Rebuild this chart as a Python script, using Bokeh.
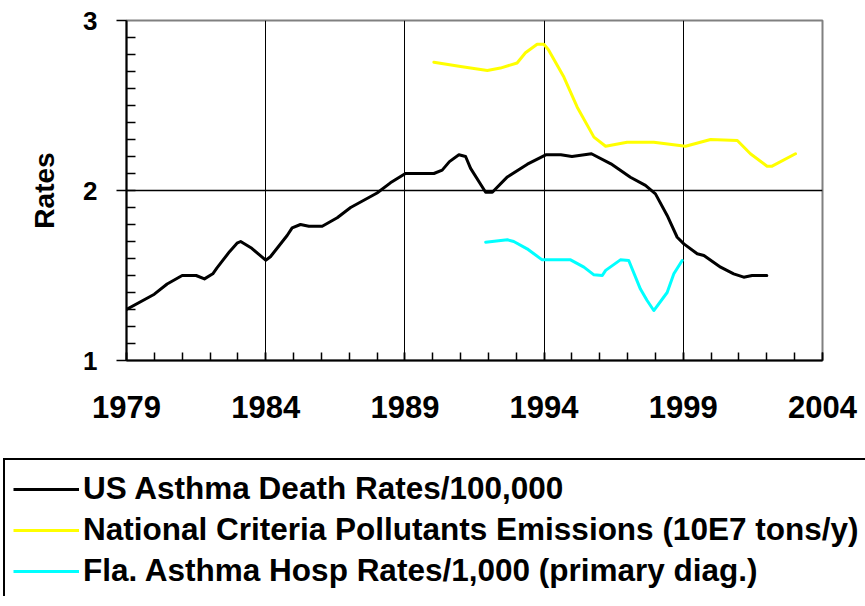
from bokeh.plotting import figure
from bokeh.models import Range1d, FixedTicker, Legend, LegendItem
from bokeh.embed import file_html
from bokeh.resources import INLINE

# ---- data ----
death_years = [1979.0, 1980.0, 1980.46, 1981.0, 1981.5, 1981.8, 1982.1, 1982.25, 1982.7, 1982.97,
               1983.1, 1983.5, 1984.0, 1984.17, 1984.77, 1984.95, 1985.25, 1985.55, 1986.03, 1986.57,
               1987.05, 1988.0, 1988.48, 1989.02, 1990.04, 1990.34, 1990.6, 1990.94, 1991.18, 1991.36,
               1991.9, 1992.14, 1992.68, 1993.4, 1994.06, 1994.6, 1995.0, 1995.7, 1996.4, 1997.1,
               1997.64, 1998.0, 1998.42, 1998.78, 1999.02, 1999.5, 1999.74, 2000.34, 2000.81, 2001.17,
               2001.47, 2002.0]
death_rates = [1.30, 1.39, 1.45, 1.50, 1.50, 1.48, 1.51, 1.545, 1.64, 1.69,
               1.70, 1.66, 1.59, 1.61, 1.735, 1.78, 1.80, 1.79, 1.79, 1.84,
               1.90, 1.985, 2.045, 2.10, 2.10, 2.12, 2.17, 2.21, 2.20, 2.13,
               1.99, 1.99, 2.08, 2.155, 2.21, 2.21, 2.20, 2.216, 2.157, 2.078,
               2.03, 1.98, 1.853, 1.725, 1.686, 1.628, 1.618, 1.549, 1.51, 1.49,
               1.50, 1.50]

emis_years = [1990.04, 1991.0, 1991.96, 1992.43, 1993.03, 1993.33, 1993.75, 1993.99, 1994.15, 1994.71,
              1995.19, 1995.79, 1996.21, 1996.98, 1997.94, 1999.08, 1999.98, 2000.94, 2001.41, 2002.01,
              2002.19, 2003.03]
emis_values = [2.755, 2.73, 2.706, 2.72, 2.75, 2.81, 2.86, 2.86, 2.83, 2.667,
               2.49, 2.314, 2.26, 2.284, 2.284, 2.26, 2.30, 2.294, 2.216, 2.143,
               2.143, 2.216]

hosp_years = [1991.9, 1992.68, 1992.91, 1993.39, 1993.93, 1994.95, 1995.43, 1995.79, 1996.09, 1996.21,
              1996.74, 1997.04, 1997.46, 1997.70, 1997.94, 1998.42, 1998.66, 1998.96]
hosp_rates = [1.696, 1.71, 1.70, 1.657, 1.592, 1.592, 1.549, 1.504, 1.50, 1.53,
              1.592, 1.588, 1.42, 1.353, 1.294, 1.40, 1.51, 1.588]

series_labels = ["US Asthma Death Rates/100,000",
                 "National Criteria Pollutants Emissions (10E7 tons/y)",
                 "Fla. Asthma Hosp Rates/1,000 (primary diag.)"]
series_colors = ["#000000", "#FFFF00", "#00FFFF"]

x_major_ticks = [1979, 1984, 1989, 1994, 1999, 2004]
x_minor_ticks = list(range(1979, 2005))
x_grid_ticks = [1984, 1989, 1994, 1999]
y_major_ticks = [1, 2, 3]
y_minor_ticks = [round(1 + i / 10, 1) for i in range(1, 20)]
y_grid_ticks = [2]

series_x = [death_years, emis_years, hosp_years]
series_y = [death_rates, emis_values, hosp_rates]

FONT = "Liberation Sans"

# ---------------- chart ----------------
p = figure(output_backend="svg", toolbar_location=None,
           frame_width=696, frame_height=340,
           x_range=Range1d(1979, 2004), y_range=Range1d(1, 3),
           min_border_left=126, min_border_right=43, min_border_top=20, min_border_bottom=90)
p.background_fill_color = "white"
p.border_fill_color = "white"
p.outline_line_color = "#808080"
p.outline_line_width = 2

p.xaxis.ticker = FixedTicker(ticks=x_major_ticks, minor_ticks=x_minor_ticks)
p.yaxis.ticker = FixedTicker(ticks=y_major_ticks, minor_ticks=y_minor_ticks)
for ax in (p.xaxis, p.yaxis):
    ax.axis_line_color = "black"
    ax.axis_line_width = 2
    ax.major_tick_line_color = "black"
    ax.minor_tick_line_color = "black"
    ax.major_tick_line_width = 1.5
    ax.minor_tick_line_width = 1.5
    ax.major_label_text_font = FONT
    ax.major_label_text_font_style = "bold"
    ax.major_label_text_color = "black"

p.xaxis.major_tick_in = 8
p.xaxis.major_tick_out = 0
p.xaxis.minor_tick_in = 8
p.xaxis.minor_tick_out = 0
p.xaxis.major_label_text_font_size = "31px"
p.xaxis.major_label_standoff = 35

p.yaxis.major_tick_in = 0
p.yaxis.major_tick_out = 10
p.yaxis.minor_tick_in = 9
p.yaxis.minor_tick_out = 0
p.yaxis.major_label_text_font_size = "26px"
p.yaxis.major_label_standoff = 19
p.yaxis.axis_label = "Rates"
p.yaxis.axis_label_text_font = FONT
p.yaxis.axis_label_text_font_style = "bold"
p.yaxis.axis_label_text_font_size = "28px"
p.yaxis.axis_label_text_color = "black"
p.yaxis.axis_label_standoff = 20

p.xgrid.ticker = FixedTicker(ticks=x_grid_ticks)
p.xgrid.grid_line_color = "black"
p.xgrid.grid_line_width = 1
p.ygrid.ticker = FixedTicker(ticks=y_grid_ticks)
p.ygrid.grid_line_color = "black"
p.ygrid.grid_line_width = 1.5

for xs, ys, c in zip(series_x, series_y, series_colors):
    p.line(xs, ys, line_color=c, line_width=3, line_join="round", line_cap="round")

# ---------------- legend panel (separate root, stacked below) ----------------
lg = figure(width=865, height=156, output_backend="svg", toolbar_location=None,
            x_range=Range1d(0, 1), y_range=Range1d(0, 1),
            x_axis_location=None, y_axis_location=None,
            min_border_left=3, min_border_right=0, min_border_top=8, min_border_bottom=10)
lg.grid.visible = False
lg.outline_line_color = None
lg.background_fill_color = "white"
lg.border_fill_color = "white"

# legend keys: same series (they fall outside this panel's ranges, only the keys show)
keys = [lg.line(xs, ys, line_color=c, line_width=3)
        for xs, ys, c in zip(series_x, series_y, series_colors)]

legend = Legend(items=[LegendItem(label=lab, renderers=[r]) for lab, r in zip(series_labels, keys)],
                location="top_left", orientation="vertical")
legend.border_line_color = "black"
legend.border_line_width = 2
legend.border_line_alpha = 1
legend.background_fill_color = "white"
legend.background_fill_alpha = 1
legend.padding = 8
legend.margin = 0
legend.spacing = 0
legend.label_height = 41
legend.glyph_height = 20
legend.glyph_width = 66
legend.label_standoff = 4
legend.label_text_font = FONT
legend.label_text_font_style = "bold"
legend.label_text_font_size = "31.5px"
legend.label_text_color = "black"
legend.label_text_baseline = "middle"
lg.add_layout(legend, "center")

open("out.html", "w").write(file_html([p, lg], INLINE))
